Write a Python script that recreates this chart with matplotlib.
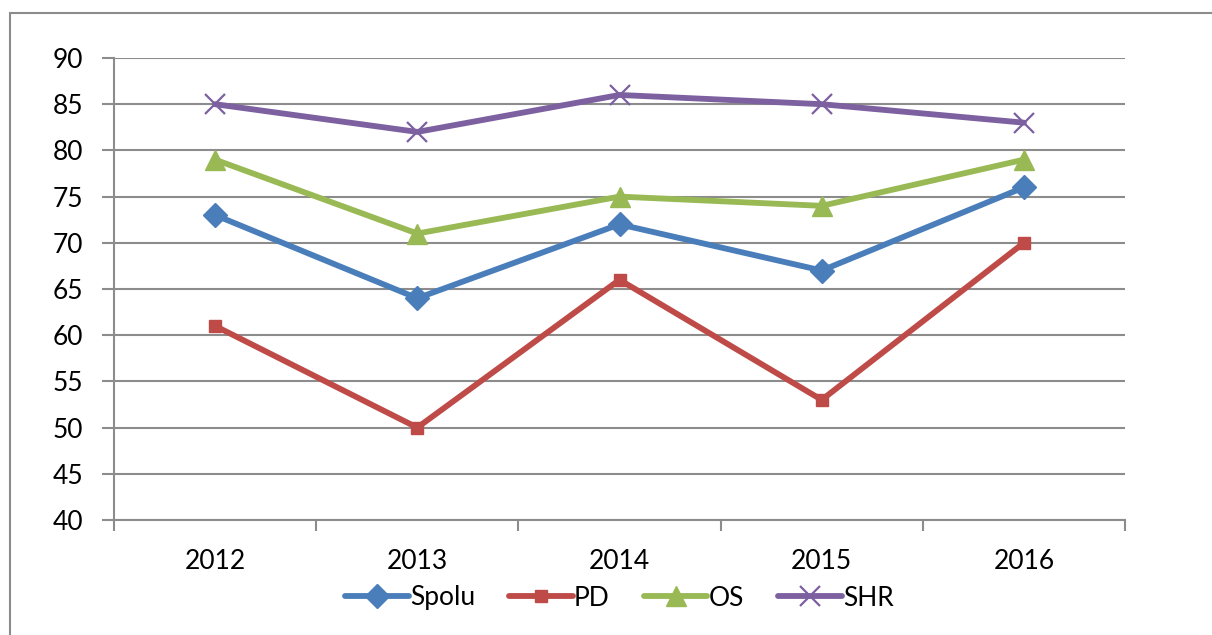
import matplotlib
matplotlib.use('Agg')
import matplotlib.pyplot as plt
from matplotlib.patches import Rectangle

# dati
anni = ['2012', '2013', '2014', '2015', '2016']
spolu = [73, 64, 72, 67, 76]
pd_vals = [61, 50, 66, 53, 70]
os_vals = [79, 71, 75, 74, 79]
shr = [85, 82, 86, 85, 83]

plt.rcParams['font.family'] = ['Lato', 'DejaVu Sans']

W, H = 1212, 635
fig = plt.figure(figsize=(W / 100, H / 100), dpi=100)
ax = fig.add_axes([114 / W, 1 - 520 / H, (1125 - 114) / W, (520 - 58) / H])

# cornice del grafico (esce dall'immagine a destra e in basso)
fig.patches.append(Rectangle((10 / W, -0.1), 1.2, 1 - 13 / H + 0.1, transform=fig.transFigure,
                             fill=False, edgecolor='#8c8c8c', linewidth=1.5))

x = range(len(anni))
ax.plot(x, spolu, color='#4a7ebb', lw=4.2, marker='D', ms=12, label='Spolu', solid_capstyle='round')
ax.plot(x, pd_vals, color='#be4b48', lw=4.2, marker='s', ms=8.5, label='PD', solid_capstyle='round')
ax.plot(x, os_vals, color='#98b954', lw=4.2, marker='^', ms=15, label='OS', solid_capstyle='round')
ax.plot(x, shr, color='#7d60a0', lw=4.2, marker='x', ms=15, mew=1.6, label='SHR', solid_capstyle='round')

ax.set_xlim(-0.5, 4.5)
ax.set_ylim(40, 90)
ax.set_yticks(range(40, 91, 5))
ax.set_xticks([i - 0.5 for i in range(6)])
ax.set_xticklabels([])
ax.set_xticks(list(x), minor=True)
ax.set_xticklabels(anni, minor=True)
ax.tick_params(axis='x', which='minor', length=0, pad=21, labelsize=19)
ax.tick_params(axis='x', which='major', length=8, color='#8c8c8c', width=1.5)
ax.tick_params(axis='y', length=9, color='#8c8c8c', width=1.5, pad=13, labelsize=19)

ax.grid(axis='y', color='#8c8c8c', lw=1.5)
ax.set_axisbelow(True)
for s in ['top', 'right']:
    ax.spines[s].set_visible(False)
ax.spines['left'].set_color('#8c8c8c')
ax.spines['left'].set_linewidth(1.5)
ax.spines['bottom'].set_color('#8c8c8c')
ax.spines['bottom'].set_linewidth(1.5)

ax.legend(loc='center', bbox_to_anchor=(0.5, -(598 - 520) / (520 - 58)), ncol=4, frameon=False,
          fontsize=19, handlelength=2.4, handletextpad=0.05, columnspacing=1.3, borderpad=0)

fig.savefig('out.png', dpi=100)
